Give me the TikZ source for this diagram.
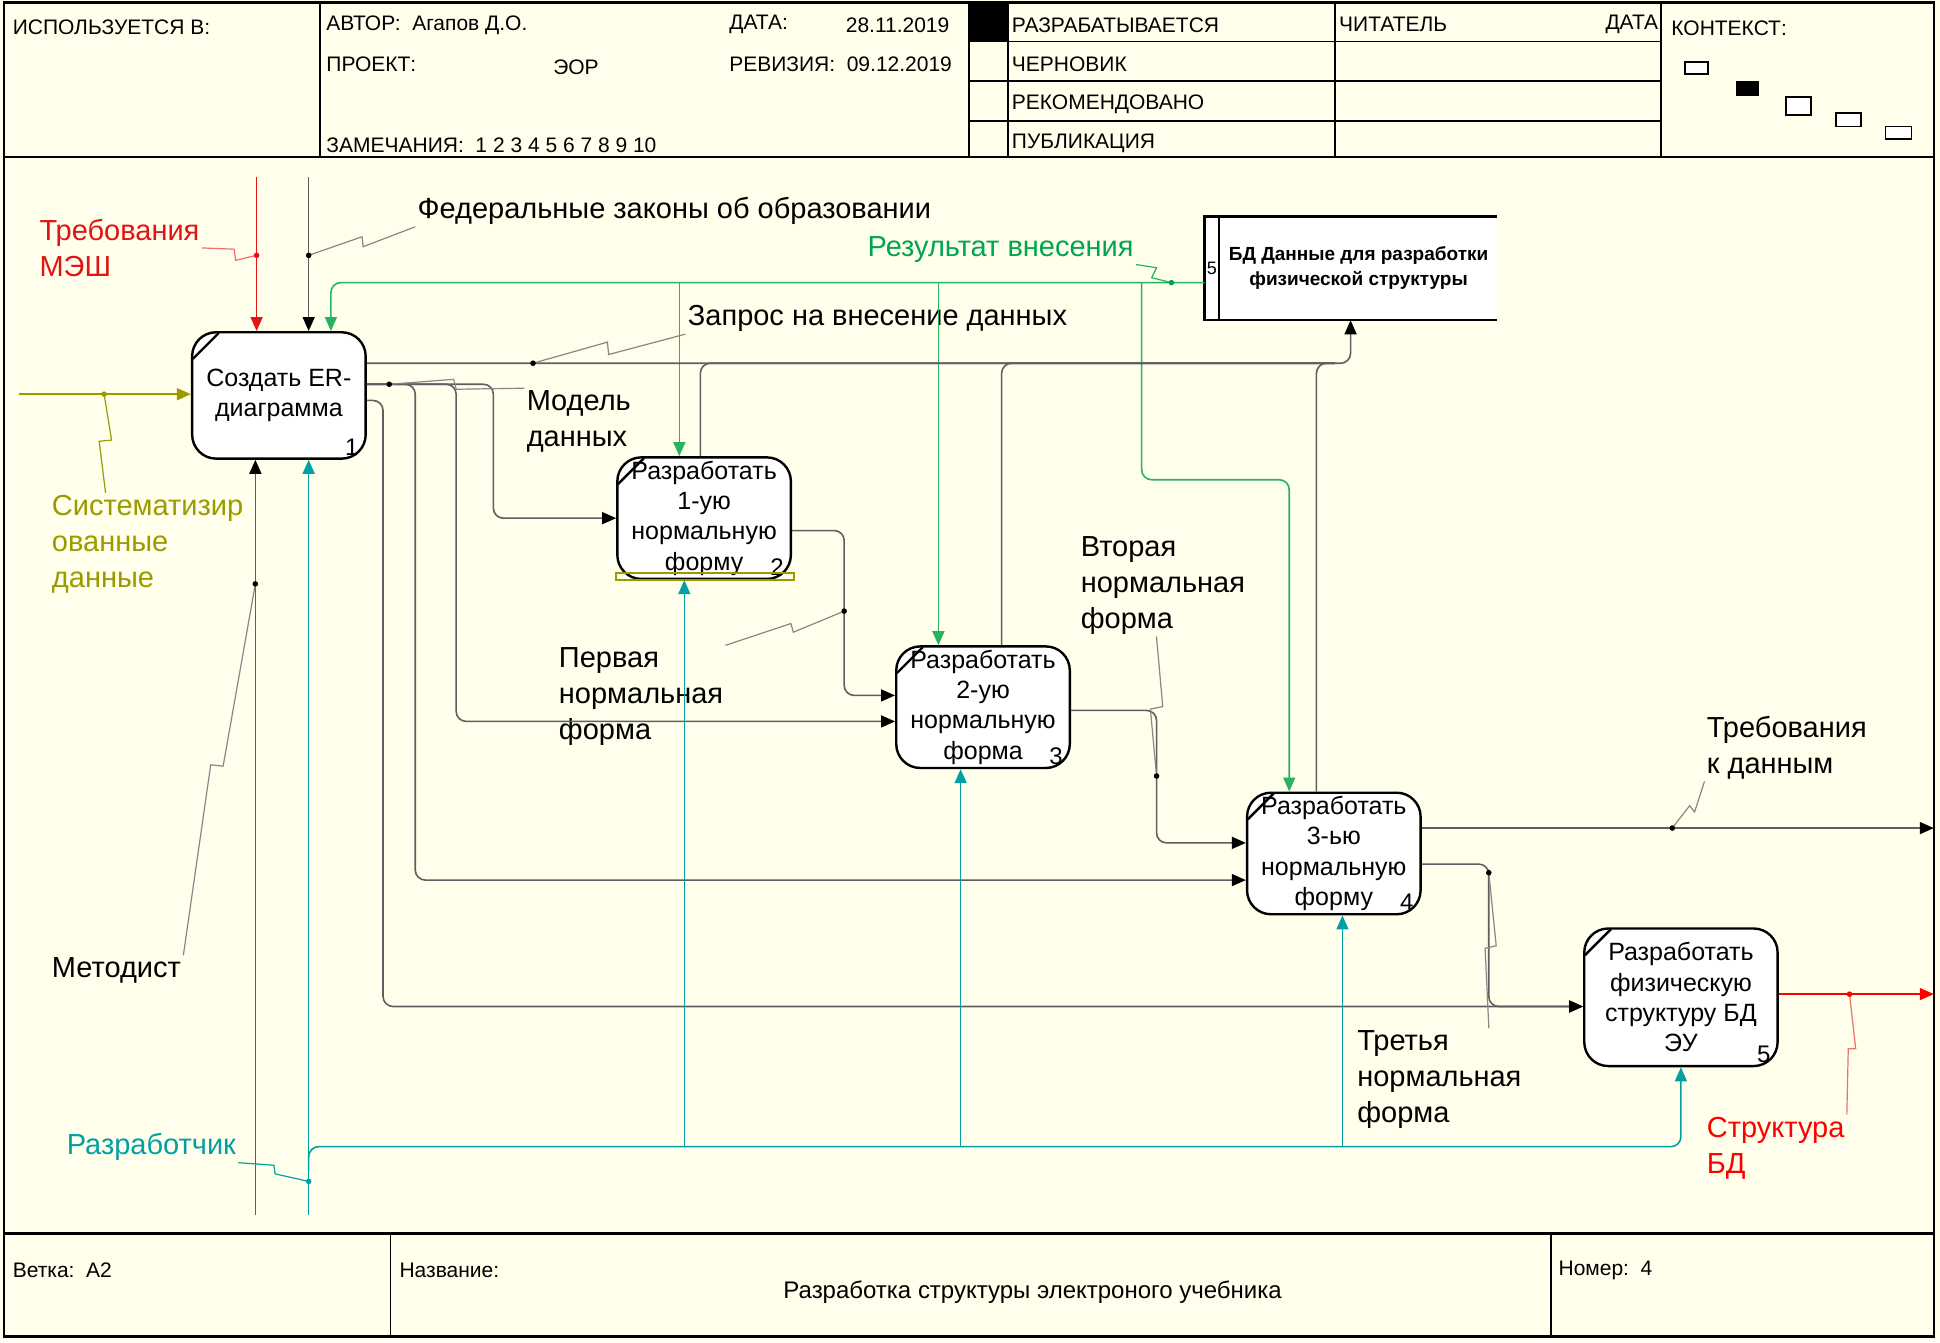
\documentclass[tikz,border=0pt]{standalone}
\usepackage{fontspec}
\setmainfont{Liberation Sans}
\usetikzlibrary{arrows.meta}
\definecolor{paper}{RGB}{255,255,236}
\definecolor{darkred}{RGB}{225,20,20}
\definecolor{lightred}{RGB}{240,110,110}
\definecolor{brightred}{RGB}{255,0,0}
\definecolor{darkgreen}{RGB}{0,165,80}
\definecolor{lightgreen}{RGB}{40,178,95}
\definecolor{olivec}{RGB}{155,155,0}
\definecolor{tealc}{RGB}{0,160,165}
\definecolor{linegray}{RGB}{95,95,95}
\definecolor{leadgray}{RGB}{135,135,135}

\begin{document}
\begin{tikzpicture}[x=0.62pt,y=-0.62pt,
    >={Triangle[length=7pt,width=6pt]},
    act/.style={draw,line width=1.2pt,rounded corners=12pt,fill=white,align=center,
        inner xsep=1pt,inner ysep=0pt,font=\fontsize{12.5}{15.2}\selectfont,
        minimum width=86.8pt,minimum height=60.8pt},
    lbl/.style={align=left,inner sep=1pt,font=\fontsize{14.5}{18}\selectfont},
    hdr/.style={inner sep=0pt,font=\fontsize{10.5}{12}\selectfont},
    num/.style={inner sep=0pt,font=\fontsize{12}{12}\selectfont},
    flow/.style={linegray,line width=0.8pt,rounded corners=5pt},
    tipk/.style={-{Triangle[length=7pt,width=6pt,black]}},
    grn/.style={lightgreen,line width=0.8pt,rounded corners=5pt},
    tel/.style={tealc,line width=0.8pt,rounded corners=5pt},
    lead/.style={leadgray,line width=0.6pt}]

    	% page and border
    	\useasboundingbox (0,0) rectangle (1565,1082.6);
    	\fill[paper] (0,0) rectangle (1565,1082.6);
    	\draw[line width=1.2pt] (3,2) rectangle (1560,1078);
    	% header frame
    	\draw[line width=1pt] (3,127) -- (1560,127);
    	\foreach \x in {258,782,813,1077,1340} \draw[line width=0.9pt] (\x,2) -- (\x,127);
    	\foreach \y in {33.5,65.5,97.5} \draw[line width=0.9pt] (782,\y) -- (1340,\y);
    	\fill (782,2) rectangle (813,33.5);
    	% header texts
    	\draw (10,22) node[hdr,anchor=west] (hUsed) {ИСПОЛЬЗУЕТСЯ В:};
    	\draw (263,20) node[hdr,anchor=west] (hAuth) {АВТОР:~~Агапов Д.О.};
    	\draw (588,20) node[hdr,anchor=west] (hDate) {ДАТА:};
    	\draw (682,20) node[hdr,anchor=west] (hDateV) {28.11.2019};
    	\draw (263,52) node[hdr,anchor=west] (hProj) {ПРОЕКТ:};
    	\draw (446,54) node[hdr,anchor=west] (hProjV) {ЭОР};
    	\draw (588,52) node[hdr,anchor=west] (hRev) {РЕВИЗИЯ:~~09.12.2019};
    	\draw (263,117) node[hdr,anchor=west] (hNotes) {ЗАМЕЧАНИЯ:~~1 2 3 4 5 6 7 8 9 10};
    	\foreach \t [count=\i] in {РАЗРАБАТЫВАЕТСЯ,ЧЕРНОВИК,РЕКОМЕНДОВАНО,ПУБЛИКАЦИЯ}
    		\draw (816,{20+32*(\i-1)}) node[hdr,anchor=west] (hSt\i) {\t};
    	\draw (1080,20) node[hdr,anchor=west] (hRead) {ЧИТАТЕЛЬ};
    	\draw (1338,20) node[hdr,anchor=east] (hRDate) {ДАТА};
    	\draw (1348,23) node[hdr,anchor=west] (hCtx) {КОНТЕКСТ:};
    	% context boxes
    	\draw[line width=0.9pt,fill=white] (1359,50) rectangle (1378,60);
    	\draw[line width=0.9pt,fill=black] (1401,66) rectangle (1418,77);
    	\draw[line width=0.9pt,fill=white] (1441,78) rectangle (1461,93);
    	\draw[line width=0.9pt,fill=white] (1481,91) rectangle (1501,102);
    	\draw[line width=0.9pt,fill=white] (1521,102) rectangle (1542,112);
    	% footer frame
    	\draw[line width=1.8pt] (3,995) -- (1560,995);
    	\draw[line width=1.8pt] (3,1078) -- (1560,1078);
    	\draw[line width=0.9pt] (315,995) -- (315,1078);
    	\draw[line width=0.9pt] (1251,995) -- (1251,1078);
    	\draw (10,1025) node[hdr,anchor=west] (fBr) {Ветка:~~A2};
    	\draw (322,1025) node[hdr,anchor=west] (fName) {Название:};
    	\draw (833,1042) node[font=\fontsize{12}{14}\selectfont] (fTitle) {Разработка структуры электроного учебника};
    	\draw (1257,1025) node[hdr,anchor=west] (fNum) {Номер:~~4};

    	% activity boxes
    	\node[act,minimum height=63.2pt] (b1) at (225,319) {Создать ER-\\диаграмма};
    	\node[act] (b2) at (568,418) {Разработать\\1-ую\\нормальную\\форму};
    	\node[act] (b3) at (793,570.5) {Разработать\\2-ую\\нормальную\\форма};
    	\node[act] (b4) at (1076,688.5) {Разработать\\3-ью\\нормальную\\форму};
    	\node[act,minimum width=96.7pt,minimum height=68.8pt] (b5) at (1356,804.5) {Разработать\\физическую\\структуру БД\\ЭУ};
    	\foreach \n in {1,...,5} {
    		\draw[line width=1.2pt] (b\n.north west) ++(1.5,22.5) -- ++(21,-21);
    		\draw ([xshift=-7.5pt,yshift=6.5pt]b\n.south east) node[num] (n\n) {\n};
    	}
    	\draw[olivec,line width=1pt] ([yshift=3.7pt]b2.south west) rectangle ([xshift=1.2pt]b2.south east);
    	% data store
    	\node[fill=white,minimum width=145.7pt,minimum height=51.5pt,align=center,inner sep=0pt,
    		font=\fontsize{9.5}{12.5}\bfseries\selectfont] (db) at (1089.5,216.5)
    		{\hspace{8pt}БД Данные для разработки\\\hspace{8pt}физической структуры};
    	\draw[line width=1.2pt] (db.north east) -- (db.north west) -- (db.south west) -- (db.south east);
    	\draw[line width=0.9pt] ([xshift=7.4pt]db.north west) -- ([xshift=7.4pt]db.south west);
    	\draw ([xshift=3.7pt]db.west) node[num,font=\fontsize{9}{9}\selectfont] (dbn) {5};

    	% arrow labels
    	\draw (30,200) node[lbl,anchor=west,darkred] (lReq) {Требования\\МЭШ};
    	\draw (335,170) node[lbl,anchor=west] (lFed) {Федеральные законы об образовании};
    	\draw (698,201) node[lbl,anchor=west,darkgreen] (lRes) {Результат внесения};
    	\draw (553,257) node[lbl,anchor=west] (lQry) {Запрос на внесение данных};
    	\draw (423,340) node[lbl,anchor=west] (lModel) {Модель\\данных};
    	\draw (40,439) node[lbl,anchor=west,olivec] (lSys) {Систематизир\\ованные\\данные};
    	\draw (40,783) node[lbl,anchor=west] (lMet) {Методист};
    	\draw (52,925) node[lbl,anchor=west,tealc] (lDev) {Разработчик};
    	\draw (449,562) node[lbl,anchor=west] (lF1) {Первая\\нормальная\\форма};
    	\draw (870,472) node[lbl,anchor=west] (lF2) {Вторая\\нормальная\\форма};
    	\draw (1093,871) node[lbl,anchor=west] (lF3) {Третья\\нормальная\\форма};
    	\draw (1375,603) node[lbl,anchor=west] (lTd) {Требования\\к данным};
    	\draw (1375,926) node[lbl,anchor=west,brightred] (lStr) {Структура\\БД};

    	% controls into box 1
    	\coordinate (tRed) at (207,143);
    	\coordinate (tFed) at (249,143);
    	\draw[darkred,line width=0.8pt,->] (tRed) -- (tRed |- b1.north);
    	\draw[flow,tipk] (tFed) -- (tFed |- b1.north);
    	% green feedback from the store
    	\coordinate (gOut) at ([yshift=-7.1pt]db.west);
    	\coordinate (g2) at ([xshift=-12.4pt]b2.north);
    	\coordinate (g3) at ([xshift=-22.3pt]b3.north);
    	\coordinate (g4) at ([xshift=-22.3pt]b4.north);
    	\coordinate (gBend) at (921,387);
    	\draw[grn,->] (gOut) -| ([xshift=26pt]b1.north);
    	\draw[grn,->] (g2 |- gOut) -- (g2);
    	\draw[grn,->] (g3 |- gOut) -- (g3);
    	\draw[grn,->] (gBend |- gOut) -- (gBend) -| (g4);
    	% request line up to the store
    	\coordinate (q1) at ([yshift=16.1pt]b1.east);
    	\coordinate (qEnd) at ([xshift=-8pt]db.south);
    	\draw[flow,tipk] (q1) -| (db.south);
    	\draw[flow] ([xshift=-1.9pt]b2.north) |- (qEnd |- q1);
    	\draw[flow] ([xshift=9.3pt]b3.north) |- (qEnd |- q1);
    	\draw[flow] ([xshift=-8.7pt]b4.north) |- (qEnd |- q1);
    	% data model from box 1
    	\coordinate (m0) at ([yshift=5.6pt]b1.east);
    	\coordinate (m1) at ([yshift=-2.5pt]b1.east);
    	\coordinate (k2) at (398,400);
    	\coordinate (k3) at (368,500);
    	\coordinate (k4) at (335,600);
    	\coordinate (k5) at (309,700);
    	\draw[flow,tipk] (m0) -| (k2) |- (b2.west);
    	\draw[flow,tipk] (m0) -| (k3) |- ([yshift=-7.1pt]b3.west);
    	\draw[flow,tipk] (m0) -| (k4) |- ([yshift=-13.3pt]b4.west);
    	\draw[flow,tipk] (m1) -| (k5) |- ([yshift=-4.6pt]b5.west);
    	% normal forms
    	\coordinate (o2) at ([yshift=-6.2pt]b2.east);
    	\coordinate (k6) at (681,480);
    	\draw[flow,tipk] (o2) -| (k6) |- ([yshift=5.9pt]b3.west);
    	\coordinate (o3) at ([yshift=-1.6pt]b3.east);
    	\coordinate (k7) at (933,620);
    	\draw[flow,tipk] (o3) -| (k7) |- ([yshift=5.3pt]b4.west);
    	\coordinate (o4b) at ([yshift=-5.3pt]b4.east);
    	\coordinate (k8) at (1201,750);
    	\draw[flow,tipk] (o4b) -| (k8) |- ([yshift=-4.6pt]b5.west);
    	% outputs to the border
    	\coordinate (frE) at (1560,0);
    	\coordinate (o4) at ([yshift=12.7pt]b4.east);
    	\coordinate (o5) at ([yshift=1.6pt]b5.east);
    	\draw[flow,tipk] (o4) -- (o4 -| frE);
    	\draw[brightred,line width=0.8pt,->] (o5) -- (o5 -| frE);
    	% input
    	\coordinate (sIn) at (15,318);
    	\draw[olivec,line width=0.8pt,->] (sIn) -- (sIn -| b1.west);
    	% mechanisms
    	\coordinate (mMet) at (206,980);
    	\coordinate (mDev) at (249,980);
    	\coordinate (tJ) at (249,945);
    	\coordinate (tRow) at (0,925);
    	\coordinate (u2) at ([xshift=-9.9pt]b2.south);
    	\coordinate (u3) at ([xshift=-11.2pt]b3.south);
    	\coordinate (u4) at ([xshift=4.3pt]b4.south);
    	\draw[flow,tipk] (mMet) -- (mMet |- b1.south);
    	\draw[tel,->] (mDev) -- (mDev |- b1.south);
    	\draw[tel,->] (tJ) |- (b5.south |- tRow) -- (b5.south);
    	\draw[tel,->] (u2 |- tRow) -- (u2);
    	\draw[tel,->] (u3 |- tRow) -- (u3);
    	\draw[tel,->] (u4 |- tRow) -- (u4);

    	% label leaders and their dots
    	\coordinate (dRed) at (207,206);
    	\coordinate (dFed) at (249,206);
    	\coordinate (dRes) at (945,228);
    	\coordinate (dQry) at (430,293);
    	\coordinate (dModel) at (314,310);
    	\coordinate (dSys) at (84,318);
    	\coordinate (dMet) at (206,471);
    	\coordinate (dDev) at (249,953);
    	\coordinate (dF1) at (681,493);
    	\coordinate (dF2) at (933,626);
    	\coordinate (dF3) at (1201,704);
    	\coordinate (dTd) at (1349,668);
    	\coordinate (dStr) at (1492,802);
    	\draw[lead,lightred] (dRed) -- ++(-17,4) -- ++(-1,-9) -- (lReq.east);
    	\draw[lead] (dFed) -- ++(43,-15) -- ++(1,8) -- (lFed.south west);
    	\draw[lead,lightgreen] (dRes) -- ++(-16,-4) -- ++(4,-8) -- (lRes.south east);
    	\draw[lead] (dQry) -- ++(60,-17) -- ++(1,10) -- (lQry.south west);
    	\draw[lead] (dModel) -- ++(52,-4) -- ++(2,8) -- (lModel.north west);
    	\draw[lead,olivec] (dSys) -- ++(6,37) -- ++(-10,1) -- ([xshift=28pt]lSys.north west);
    	\draw[lead] (dMet) -- ++(-26,147) -- ++(-10,-1) -- (lMet.north east);
    	\draw[lead,tealc] (dDev) -- ++(-27,-6) -- ++(-1,-7) -- (lDev.south east);
    	\draw[lead] (dF1) -- ++(-41,17) -- ++(-2,-7) -- (lF1.north east);
    	\draw[lead] (dF2) -- ++(-5,-54) -- ++(10,-2) -- ([xshift=39pt]lF2.south west);
    	\draw[lead] (dF3) -- ++(6,59) -- ++(-9,2) -- ([xshift=67pt]lF3.north west);
    	\draw[lead] (dTd) -- ++(14,-18) -- ++(4,5) -- (lTd.south west);
    	\draw[lead,lightred] (dStr) -- ++(5,44) -- ++(-6,0) -- (lStr.north east);
    	\foreach \d in {dFed,dQry,dModel,dMet,dF1,dF2,dF3,dTd} \fill (\d) circle (1.4pt);
    	\fill[darkred] (dRed) circle (1.4pt);
    	\fill[darkgreen] (dRes) circle (1.4pt);
    	\fill[olivec] (dSys) circle (1.4pt);
    	\fill[tealc] (dDev) circle (1.4pt);
    	\fill[brightred] (dStr) circle (1.4pt);

\end{tikzpicture}
\end{document}
